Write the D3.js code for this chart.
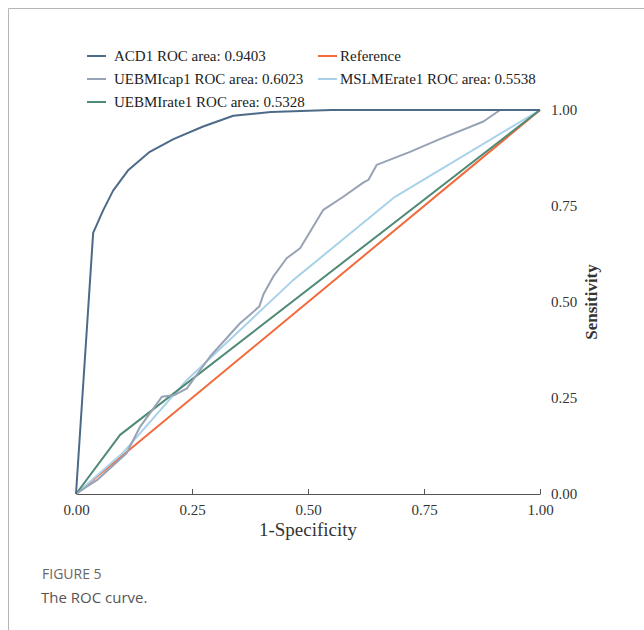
<!DOCTYPE html>
<html>
<head>
<meta charset="utf-8">
<script src="https://cdn.jsdelivr.net/npm/d3@7"></script>
<style>
  body { margin: 0; background: #fff; }
  svg { display: block; }
</style>
</head>
<body>
<div id="chart"></div>
<script>
// ROC points: [1-specificity, sensitivity]
const acd1 = [[0,0],[0.037,0.68],[0.059,0.74],[0.08,0.79],[0.113,0.844],[0.159,0.891],[0.21,0.924],[0.274,0.957],[0.339,0.985],[0.42,0.995],[0.55,1],[1,1]];
const uebmiCap1 = [[0,0],[0.023,0.019],[0.045,0.036],[0.109,0.106],[0.138,0.175],[0.185,0.253],[0.213,0.258],[0.239,0.275],[0.289,0.358],[0.353,0.444],[0.395,0.488],[0.404,0.52],[0.425,0.566],[0.454,0.614],[0.483,0.64],[0.533,0.74],[0.576,0.774],[0.619,0.811],[0.63,0.818],[0.648,0.857],[0.72,0.891],[0.784,0.924],[0.878,0.97],[0.914,1],[1,1]];
const mslmeRate1 = [[0,0],[0.1,0.106],[0.239,0.297],[0.468,0.557],[0.6875,0.774],[1,1]];
const uebmiRate1 = [[0,0],[0.095,0.154],[1,1]];
const reference = [[0,0],[1,1]];

const seriesNames = ["ACD1 ROC area: 0.9403", "UEBMIcap1 ROC area: 0.6023", "UEBMIrate1 ROC area: 0.5328", "MSLMErate1 ROC area: 0.5538", "Reference"];
const seriesColors = ["#4d6b88", "#97a2b4", "#4f8a76", "#a9d2ea", "#f2693a"];
const tickValues = [0, 0.25, 0.5, 0.75, 1];

const width = 644, height = 630;
const svg = d3.select("#chart").append("svg")
    .attr("width", width)
    .attr("height", height);

// page frame
svg.append("path")
    .attr("d", "M8.5,630 L8.5,8.5 L644,8.5")
    .attr("fill", "none")
    .attr("stroke", "#b5b5b5")
    .attr("stroke-width", 1);

// scales
const x = d3.scaleLinear().domain([0, 1]).range([76, 540]);
const y = d3.scaleLinear().domain([0, 1]).range([494, 110]);

const serif = "'Liberation Serif', 'Times New Roman', serif";

// x axis, ticks pointing up
const xAxis = svg.append("g")
    .attr("transform", "translate(0,494)")
    .call(d3.axisTop(x).tickValues(tickValues).tickSize(5).tickSizeOuter(0).tickFormat(d3.format(".2f")));
xAxis.select(".domain").attr("stroke", "#555");
xAxis.selectAll(".tick line").attr("stroke", "#555");
xAxis.selectAll(".tick text")
    .attr("y", 21)
    .attr("dy", 0)
    .attr("fill", "#333")
    .style("font-family", serif)
    .style("font-size", "15px");

// y axis on the right, labels only
const yAxis = svg.append("g")
    .attr("transform", "translate(540,0)")
    .call(d3.axisRight(y).tickValues(tickValues).tickSize(0).tickFormat(d3.format(".2f")));
yAxis.select(".domain").remove();
yAxis.selectAll(".tick text")
    .attr("x", 11)
    .attr("fill", "#333")
    .style("font-family", serif)
    .style("font-size", "15px");

// axis titles
svg.append("text")
    .attr("x", x(0.5))
    .attr("y", 536)
    .attr("text-anchor", "middle")
    .attr("fill", "#333")
    .style("font-family", serif)
    .style("font-size", "19px")
    .text("1-Specificity");

svg.append("text")
    .attr("transform", "translate(597," + y(0.5) + ") rotate(-90)")
    .attr("text-anchor", "middle")
    .attr("fill", "#333")
    .style("font-family", serif)
    .style("font-size", "17px")
    .style("font-weight", "bold")
    .text("Sensitivity");

// curves
const line = d3.line()
    .x(d => x(d[0]))
    .y(d => y(d[1]));

const series = [reference, mslmeRate1, uebmiRate1, uebmiCap1, acd1];
const seriesIdx = [4, 3, 2, 1, 0];
series.forEach((s, i) => {
    svg.append("path")
        .datum(s)
        .attr("d", line)
        .attr("fill", "none")
        .attr("stroke", seriesColors[seriesIdx[i]])
        .attr("stroke-width", 2)
        .attr("stroke-linejoin", "round");
});

// legend
const legendPos = [[87, 56], [87, 79], [87, 102], [318, 79], [318, 56]];
const legend = svg.append("g").attr("class", "legend");
seriesNames.forEach((name, i) => {
    const g = legend.append("g")
        .attr("transform", "translate(" + legendPos[i][0] + "," + legendPos[i][1] + ")");
    g.append("line")
        .attr("x1", 0).attr("x2", 19)
        .attr("y1", 0).attr("y2", 0)
        .attr("stroke", seriesColors[i])
        .attr("stroke-width", 2);
    g.append("text")
        .attr("x", i >= 3 ? 22 : 27)
        .attr("y", 5)
        .attr("fill", "#222")
        .style("font-family", serif)
        .style("font-size", "15px")
        .text(name);
});

// caption
svg.append("text")
    .attr("x", 42)
    .attr("y", 579)
    .attr("fill", "#666")
    .style("font-family", "'Open Sans', sans-serif")
    .style("font-size", "14px")
    .text("FIGURE 5");

svg.append("text")
    .attr("x", 41)
    .attr("y", 603)
    .attr("fill", "#555")
    .style("font-family", "'Open Sans', sans-serif")
    .style("font-size", "15px")
    .text("The ROC curve.");
</script>
</body>
</html>
